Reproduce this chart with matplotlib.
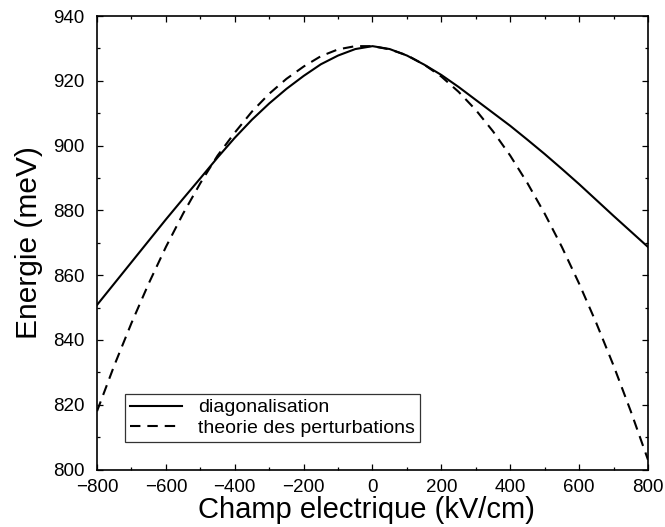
import matplotlib
matplotlib.use("Agg")
import matplotlib.pyplot as plt
from matplotlib.ticker import MultipleLocator

# Electric field (kV/cm)
field = [-800, -750, -700, -650, -600, -550, -500, -450, -400, -350, -300,
         -250, -200, -150, -100, -50, 0, 50, 100, 150, 200, 250, 300, 350,
         400, 450, 500, 550, 600, 650, 700, 750, 800]

# Transition energy from exact diagonalisation (meV)
energy_diag = [850.8, 857.4, 864.0, 870.6, 877.2, 883.6, 889.9, 896.3, 902.4,
               908.0, 913.0, 917.5, 921.5, 925.1, 927.8, 929.8, 930.7, 929.8,
               927.8, 925.0, 921.8, 918.1, 914.1, 910.1, 906.1, 901.8, 897.4,
               892.8, 888.1, 883.2, 878.3, 873.5, 868.7]

# Transition energy from perturbation theory (meV)
energy_pert = [818.0, 832.1, 845.2, 857.4, 868.7, 879.0, 888.4, 896.9, 904.0,
               910.5, 916.0, 920.6, 924.4, 927.6, 929.7, 930.7, 930.7, 929.7,
               927.9, 925.0, 921.3, 916.6, 911.0, 904.4, 896.9, 888.4, 879.0,
               868.7, 857.4, 845.2, 832.1, 818.0, 803.0]

label_diag = "diagonalisation"
label_pert = "theorie des perturbations"

plt.rcParams["font.family"] = ["Liberation Sans", "DejaVu Sans"]
plt.rcParams["lines.scale_dashes"] = False

fig = plt.figure(figsize=(6.65, 5.27), dpi=100)
ax = fig.add_axes([0.1459, 0.1091, 0.8285, 0.8605])

ax.plot(field, energy_diag, color="black", lw=1.5, label=label_diag)
ax.plot(field, energy_pert, color="black", lw=1.5, dashes=(7.5, 5.0),
        label=label_pert)

ax.set_xlim(-800, 800)
ax.set_ylim(800, 940)
ax.xaxis.set_major_locator(MultipleLocator(200))
ax.xaxis.set_minor_locator(MultipleLocator(100))
ax.yaxis.set_major_locator(MultipleLocator(20))
ax.yaxis.set_minor_locator(MultipleLocator(10))

ax.tick_params(which="both", direction="in", top=True, right=True,
               width=0.9, colors="black")
ax.tick_params(which="major", length=4.5, labelsize=13.5)
ax.tick_params(axis="x", which="major", pad=7)
ax.tick_params(axis="y", which="major", pad=9)
ax.tick_params(which="minor", length=2.3)
for sp in ax.spines.values():
    sp.set_linewidth(1.2)

ax.set_xlabel("Champ electrique (kV/cm)", fontsize=21, labelpad=0, x=0.489)
ax.set_ylabel("Energie (meV)", fontsize=21.5, labelpad=7)

leg = ax.legend(loc="lower left", bbox_to_anchor=(0.051, 0.061),
                borderaxespad=0, fontsize=14, frameon=True, fancybox=False,
                edgecolor="black", handlelength=2.7, handletextpad=0.8,
                borderpad=0.25, labelspacing=0.15)
leg.get_frame().set_linewidth(0.9)

fig.savefig("out.png", dpi=100)
